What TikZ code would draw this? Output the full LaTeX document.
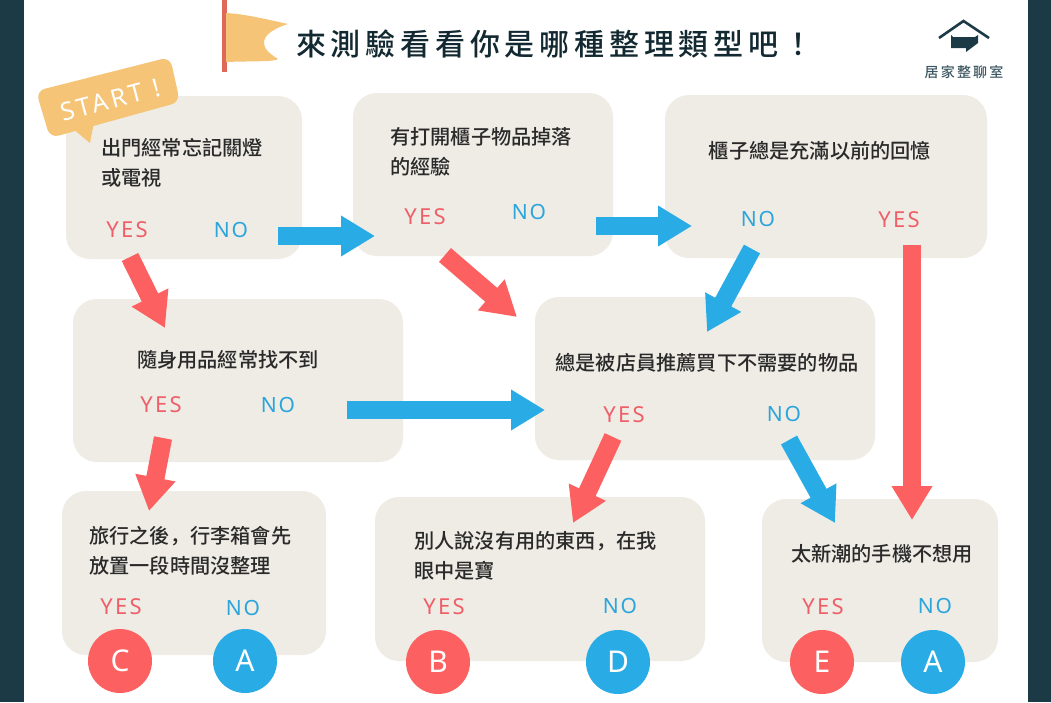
\documentclass[tikz,border=0pt]{standalone}
\usepackage{fontspec}
\setmainfont{Noto Sans}
\newfontfamily\cjk{Noto Sans CJK TC Medium}
\newfontfamily\cjksc{Noto Sans CJK SC Medium}
\newcommand{\lowcomma}{{\cjksc ，}}
\usetikzlibrary{arrows.meta,calc}
\definecolor{barc}{HTML}{1B3A46}
\definecolor{boxc}{HTML}{EEECE5}
\definecolor{redc}{HTML}{FC6060}
\definecolor{bluec}{HTML}{29ABE6}
\definecolor{redt}{HTML}{EF5F68}
\definecolor{bluet}{HTML}{2BA5DC}
\definecolor{flagc}{HTML}{F5C477}
\definecolor{polec}{HTML}{E0685A}
\definecolor{txtc}{HTML}{2A2A2A}
\tikzset{
 x=1pt,y=-1pt,
 card/.style={fill=boxc,rounded corners=24pt},
 q/.style={font=\cjk\fontsize{20.2}{30}\selectfont,text=txtc,align=left,inner sep=0pt},
 yes/.style={font=\fontsize{22}{22}\selectfont\addfontfeatures{LetterSpace=10},text=redt,inner sep=0pt,yshift=-1pt},
 no/.style={font=\fontsize{21}{21}\selectfont\addfontfeatures{LetterSpace=8},text=bluet,inner sep=0pt},
 blk/.style={line width=18.3pt,-{Triangle[length=34pt,width=38.5pt]}},
 rarrow/.style={blk,draw=redc},
 barrow/.style={blk,draw=bluec},
 rdot/.style={circle,fill=redc,minimum size=64pt,inner sep=0pt,text=white,font=\fontsize{30}{30}\selectfont},
 bdot/.style={circle,fill=bluec,minimum size=64pt,inner sep=0pt,text=white,font=\fontsize{30}{30}\selectfont},
}
\begin{document}
\begin{tikzpicture}
\useasboundingbox (0,0) rectangle (1051,702);
\fill[white] (0,0) rectangle (1051,702);
\fill[barc] (0,0) rectangle (23.5,702);
\fill[barc] (1028,0) rectangle (1051,702);
% cards
\fill[card] (66,96) rectangle (302,259);
\fill[card] (353,93) rectangle (613,256);
\fill[card] (665,95) rectangle (987,258);
\fill[card] (73,299) rectangle (403,462);
\fill[card] (535,297) rectangle (875,460);
\fill[card] (62,491) rectangle (326,655);
\fill[card] (375,497) rectangle (705,661);
\fill[card] (762,499) rectangle (998,662);
% flag
\fill[polec] (221.5,0) rectangle (226.5,72);
\fill[flagc] (226,13) .. controls (245,14) and (265,19) .. (288,24) .. controls (272,29) and (263,36) .. (264,44) .. controls (265,51) and (272,55) .. (278,59) .. controls (275,62) and (250,61) .. (226,62) -- cycle;
\node[font=\cjk\fontsize{30}{30}\selectfont\addfontfeatures{LetterSpace=16},text=barc!70!black,anchor=west,inner sep=0pt] (title) at (296,44) {來測驗看看你是哪種整理類型吧！};
% logo
\draw[barc,line width=2.6pt,line join=miter] (939,38) -- (963.5,21) -- (989,38);
\fill[barc] (951,35) -- (953,37) -- (975,37) -- (978,35) -- (978,43) -- (966,52) -- (966,48) -- (951,48) -- cycle;
\node[font=\cjk\fontsize{14}{14}\selectfont\addfontfeatures{LetterSpace=16},text=barc!85!white,inner sep=0pt] (brand) at (964,72) {居家整聊室};
% start bubble
\fill[flagc,rounded corners=9pt] (36,91) -- (170,57) -- (180,102) -- (50,138) -- cycle;
\fill[flagc] (72,128) -- (90,143) -- (94,122) -- cycle;
\node[font=\fontsize{25}{25}\selectfont\addfontfeatures{LetterSpace=14},text=white,rotate=15,inner sep=0pt] (start) at (110,100) {START !};
% text
\node[q,anchor=north west] (t1) at (101,138) {出門經常忘記關燈\\或電視};
\node[q,anchor=north west] (t2) at (390,127) {有打開櫃子物品掉落\\的經驗};
\node[q] (t3) at (820,151) {櫃子總是充滿以前的回憶};
\node[q] (t4) at (228,360) {隨身用品經常找不到};
\node[q] (t5) at (707,363) {總是被店員推薦買下不需要的物品};
\node[q,anchor=north west] (t6) at (89,526) {旅行之後\lowcomma 行李箱會先\\放置一段時間沒整理};
\node[q,anchor=north west] (t7) at (414,531) {別人說沒有用的東西\lowcomma 在我\\眼中是寶};
\node[q] (t8) at (882,554) {太新潮的手機不想用};
% yes / no
\node[yes] (y1) at (127,229) {YES};
\node[no] (n1) at (231,230) {NO};
\node[yes] (y2) at (425,216) {YES};
\node[no] (n2) at (529,212) {NO};
\node[no] (n3) at (758,219) {NO};
\node[yes] (y3) at (899,219) {YES};
\node[yes] (y4) at (161,404) {YES};
\node[no] (n4) at (278,405) {NO};
\node[yes] (y5) at (624,414) {YES};
\node[no] (n5) at (784,414) {NO};
\node[yes] (y6) at (121,606) {YES};
\node[no] (n6) at (243,608) {NO};
\node[yes] (y7) at (444,606) {YES};
\node[no] (n7) at (620,606) {NO};
\node[yes] (y8) at (823,606) {YES};
\node[no] (n8) at (935,606) {NO};
% dots
\node[rdot] (c) at (120,661) {C};
\node[bdot] (a1) at (245,661) {A};
\node[rdot] (b) at (438,662) {B};
\node[bdot] (d) at (618,662) {D};
\node[rdot] (e) at (822,662) {E};
\node[bdot] (a2) at (933,662) {A};
% connector ends
\coordinate (a1s) at (278,236); \coordinate (a1e) at (375,236);
\coordinate (a2s) at (596,226); \coordinate (a2e) at (692,226);
\coordinate (a3s) at (130,257); \coordinate (a3e) at (165,328);
\coordinate (a4s) at (445,255); \coordinate (a4e) at (517,317);
\coordinate (a5s) at (752,249); \coordinate (a5e) at (707,332);
\coordinate (a6s) at (912,245); \coordinate (a6e) at (912,520);
\coordinate (a7s) at (347,410); \coordinate (a7e) at (545,410);
\coordinate (a8s) at (163,438); \coordinate (a8e) at (149,511);
\coordinate (a9s) at (613,437); \coordinate (a9e) at (573,523);
\coordinate (a10s) at (789,440); \coordinate (a10e) at (835,523);
\draw[barrow] (a1s) -- (a1e);
\draw[barrow] (a2s) -- (a2e);
\draw[rarrow] (a3s) -- (a3e);
\draw[rarrow] (a4s) -- (a4e);
\draw[barrow] (a5s) -- (a5e);
\draw[rarrow] (a6s) -- (a6e);
\draw[barrow] (a7s) -- (a7e);
\draw[rarrow] (a8s) -- (a8e);
\draw[rarrow] (a9s) -- (a9e);
\draw[barrow] (a10s) -- (a10e);
\end{tikzpicture}
\end{document}
